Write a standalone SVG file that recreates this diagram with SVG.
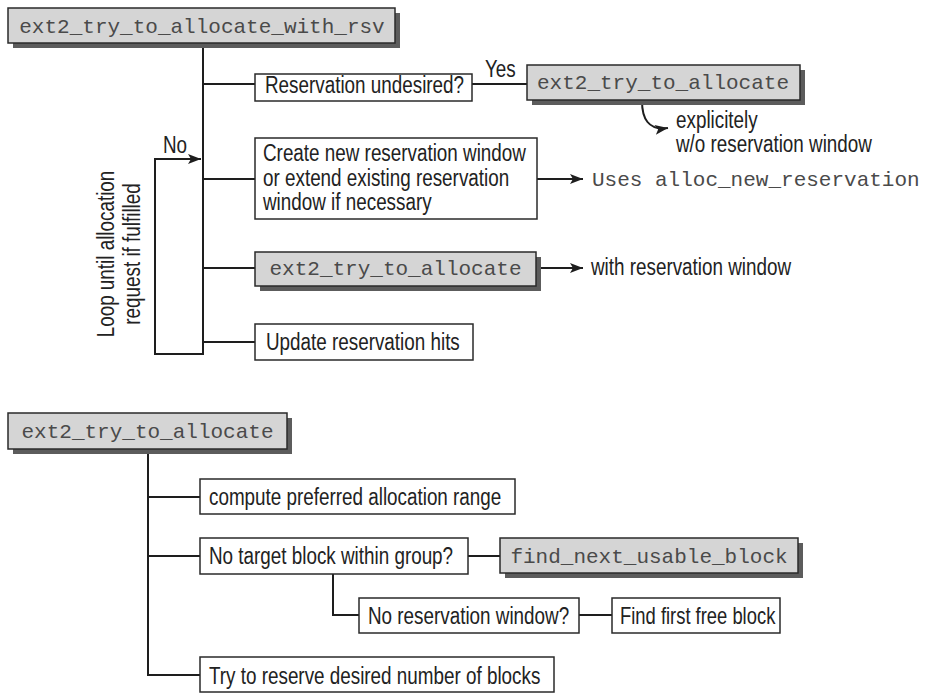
<svg xmlns="http://www.w3.org/2000/svg" width="927" height="693" viewBox="0 0 927 693">
<style>
.box{fill:#fff;stroke:#2a2a2a;stroke-width:1.5}
.gbox{fill:#d5d5d5;stroke:#2a2a2a;stroke-width:1.5}
.sh{fill:#5c5c5c}
.ln{fill:none;stroke:#1e1e1e;stroke-width:2}
.t{font-family:'Liberation Sans',Arial,sans-serif;font-size:23px;fill:#222}
.m{font-family:'Liberation Mono','Courier New',monospace;font-size:21px;fill:#4a4a4a}
</style>
<defs>
<marker id="ah" markerUnits="userSpaceOnUse" markerWidth="14" markerHeight="10" refX="13" refY="5" orient="auto">
<path d="M0,0 L13,5 L0,10 L3,5 z" fill="#1e1e1e"/>
</marker>
</defs>
<rect width="927" height="693" fill="#fff"/>

<g id="connectors">
<path class="ln" d="M203,43 V354 H155 V159 H201" marker-end="url(#ah)"/>
<path class="ln" d="M203,84 H255"/>
<path class="ln" d="M203,179 H255"/>
<path class="ln" d="M203,268 H255"/>
<path class="ln" d="M203,342 H255"/>
<path class="ln" d="M472,84 H527"/>
<path class="ln" d="M642,101 C642,118 648,131 668,128" marker-end="url(#ah)"/>
<path class="ln" d="M537,179 H583" marker-end="url(#ah)"/>
<path class="ln" d="M536,268 H583" marker-end="url(#ah)"/>
<path class="ln" d="M148,449 V675 H200"/>
<path class="ln" d="M148,497 H200"/>
<path class="ln" d="M148,556 H200"/>
<path class="ln" d="M468,556 H500"/>
<path class="ln" d="M333,574 V615 H359"/>
<path class="ln" d="M579,615 H612"/>
</g>

<g id="labels">
<text class="t" transform="translate(485 77) scale(0.82 1)">Yes</text>
<text class="t" transform="translate(163 153) scale(0.82 1)">No</text>
<text class="t" text-anchor="middle" transform="translate(114 254) rotate(-90) scale(0.82 1)">Loop until allocation</text>
<text class="t" text-anchor="middle" transform="translate(140 254) rotate(-90) scale(0.82 1)">request if fulfilled</text>
<text class="t" transform="translate(676 128) scale(0.82 1)">explicitely</text>
<text class="t" transform="translate(676 152) scale(0.82 1)">w/o reservation window</text>
<text class="m" x="592" y="186">Uses alloc_new_reservation</text>
<text class="t" transform="translate(591 275) scale(0.82 1)">with reservation window</text>
</g>

<g id="n_rsv">
<rect class="sh" x="13" y="13" width="387" height="35"/>
<rect class="gbox" x="8" y="8" width="387" height="35"/>
<text class="m" x="202" y="33" text-anchor="middle">ext2_try_to_allocate_with_rsv</text>
</g>

<g id="n_undesired">
<rect class="box" x="255" y="74" width="217" height="27"/>
<text class="t" transform="translate(265 93) scale(0.82 1)">Reservation undesired?</text>
</g>

<g id="n_alloc1">
<rect class="sh" x="532" y="70" width="273" height="35"/>
<rect class="gbox" x="527" y="65" width="273" height="35"/>
<text class="m" x="663" y="89" text-anchor="middle">ext2_try_to_allocate</text>
</g>

<g id="n_create">
<rect class="box" x="255" y="138" width="282" height="81"/>
<text class="t" transform="translate(263 161) scale(0.82 1)">Create new reservation window</text>
<text class="t" transform="translate(263 185.5) scale(0.82 1)">or extend existing reservation</text>
<text class="t" transform="translate(263 210) scale(0.82 1)">window if necessary</text>
</g>

<g id="n_alloc2">
<rect class="sh" x="260" y="257" width="281" height="34"/>
<rect class="gbox" x="255" y="252" width="281" height="34"/>
<text class="m" x="395.5" y="275" text-anchor="middle">ext2_try_to_allocate</text>
</g>

<g id="n_update">
<rect class="box" x="255" y="324" width="218" height="36"/>
<text class="t" transform="translate(266 350) scale(0.82 1)">Update reservation hits</text>
</g>

<g id="n_alloc3">
<rect class="sh" x="13" y="418" width="279" height="36"/>
<rect class="gbox" x="8" y="413" width="279" height="36"/>
<text class="m" x="147.5" y="438" text-anchor="middle">ext2_try_to_allocate</text>
</g>

<g id="n_compute">
<rect class="box" x="200" y="479" width="315" height="35"/>
<text class="t" transform="translate(209 505) scale(0.82 1)">compute preferred allocation range</text>
</g>

<g id="n_notarget">
<rect class="box" x="200" y="538" width="268" height="36"/>
<text class="t" transform="translate(209 564) scale(0.82 1)">No target block within group?</text>
</g>

<g id="n_findnext">
<rect class="sh" x="505" y="543" width="298" height="35"/>
<rect class="gbox" x="500" y="538" width="298" height="35"/>
<text class="m" x="649" y="563" text-anchor="middle">find_next_usable_block</text>
</g>

<g id="n_norsv">
<rect class="box" x="359" y="598" width="220" height="35"/>
<text class="t" transform="translate(368 624) scale(0.82 1)">No reservation window?</text>
</g>

<g id="n_findfirst">
<rect class="box" x="612" y="598" width="168" height="35"/>
<text class="t" transform="translate(620 624) scale(0.8 1)">Find first free block</text>
</g>

<g id="n_try">
<rect class="box" x="200" y="657" width="354" height="35"/>
<text class="t" transform="translate(209 684) scale(0.82 1)">Try to reserve desired number of blocks</text>
</g>
</svg>
